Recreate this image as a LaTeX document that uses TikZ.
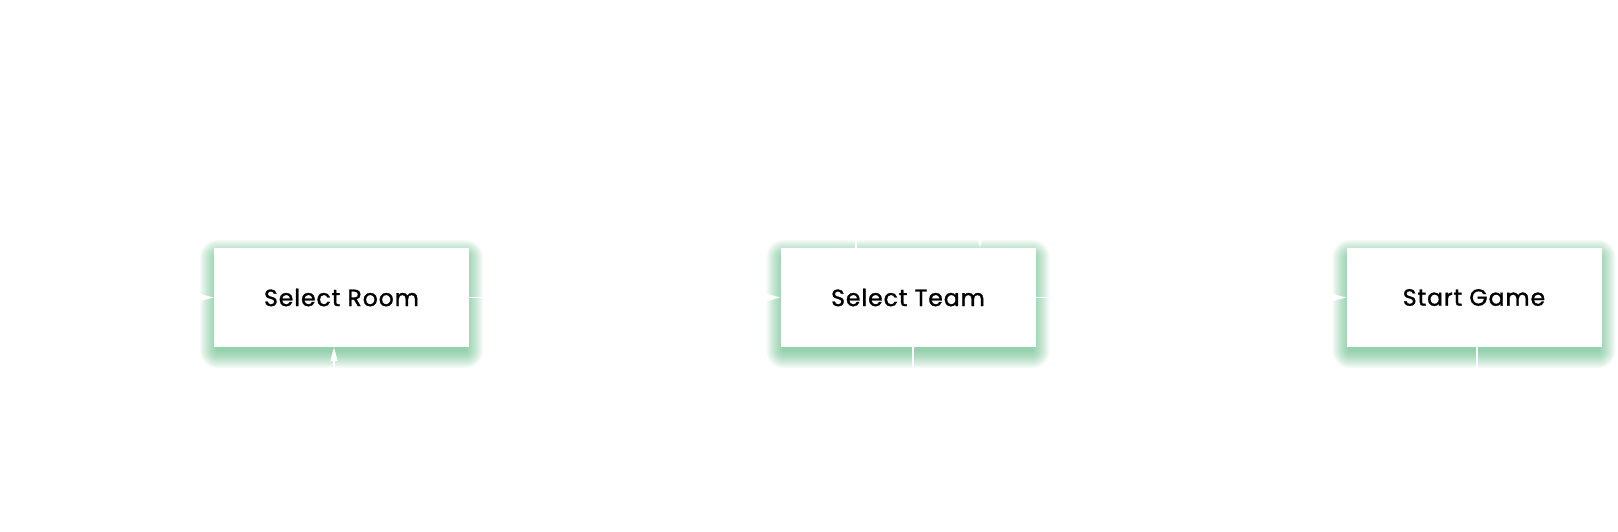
\documentclass[tikz,border=0pt]{standalone}
\usepackage{fontspec}
\setmainfont{Poppins}
\newfontfamily\boxfont[LetterSpace=4,FakeBold=1.3]{Poppins}
\usetikzlibrary{arrows.meta,calc}
\definecolor{glow}{RGB}{60,170,105}
\tikzset{
  stepbox/.style={draw=none, fill=white, minimum width=255pt, minimum height=99pt,
    inner sep=0pt, font=\boxfont\fontsize{23.5}{26}\selectfont, text=black},
  glowlayer/.style={fill=glow, fill opacity=0.042, draw=none},
  link/.style={draw=white, line width=1.6pt},
  linkarrow/.style={link, -{Triangle[length=14pt,width=7pt]}}
}
\newcommand{\myglow}[1]{%
  \foreach \g in {1,...,18}{%
    \fill[glowlayer, rounded corners=\g pt]
      ($(#1.north west)+(-\g+4,-\g+10)$) rectangle ($(#1.south east)+(\g-4,\g+3)$);
  }}
\begin{document}
\begin{tikzpicture}[x=1pt,y=-1pt]
\useasboundingbox (0,0) rectangle (1618,532);
\path (341.5,297.5) node[minimum width=255pt, minimum height=99pt] (room) {}
      (908,297.5) node[minimum width=255pt, minimum height=99pt] (team) {}
      (1474,297.5) node[minimum width=255pt, minimum height=99pt] (start) {};
\myglow{room}
\myglow{team}
\myglow{start}
\coordinate (back) at (150,297.5);
\draw[linkarrow] (back) -- (room.west);
\draw[linkarrow] (room.east) -- (team.west);
\draw[linkarrow] (team.east) -- (start.west);
\draw[linkarrow] (team.south -| 913,0) -- ++(0,80) -| (room.south -| 334,0);
\draw[link] (team.north -| 856,0) -- ++(0,-100) -| (back);
\draw[linkarrow] (start.south -| 1477,0) -- ++(0,90) -- ++(-340,0) |- (980,170) -- (team.north -| 980,0);
\node[stepbox] (roombox) at (room) {Select Room};
\node[stepbox] (teambox) at (team) {Select Team};
\node[stepbox] (startbox) at (start) {Start Game};
\end{tikzpicture}
\end{document}
